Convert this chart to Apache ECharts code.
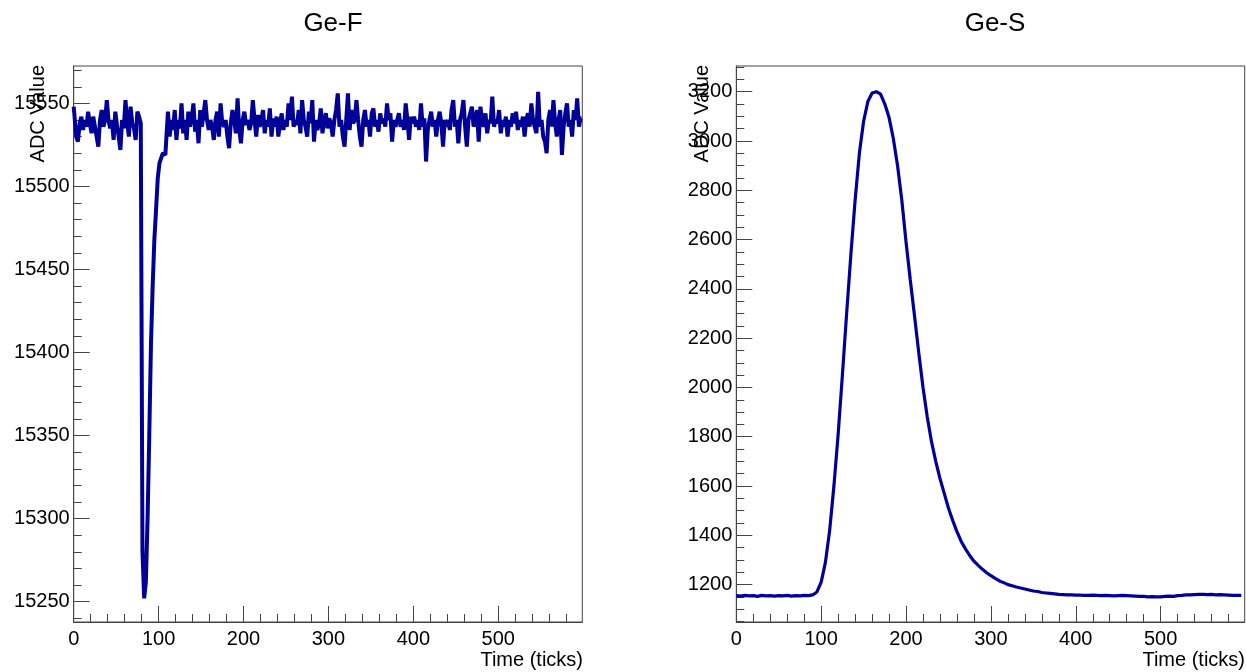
<!DOCTYPE html>
<html>
<head>
<meta charset="utf-8">
<script src="https://cdn.jsdelivr.net/npm/echarts@6/dist/echarts.min.js"></script>
<style>
html,body{margin:0;padding:0;background:#fff;}
#chart{width:1246px;height:672px;}
</style>
</head>
<body>
<div id="chart"></div>
<script>
// ---------------- data ----------------
const titles = ['Ge-F', 'Ge-S'];
const xTitle = 'Time (ticks)';
const yTitle = 'ADC Value';

// Ge-F : one value every 2 ticks, starting at tick 0 (each row = 20 ticks)
const stepF = 2;
const adcF = [
15548,15542,15530,15527,15538,15542,15534,15540,15536,15545,
15538,15532,15542,15536,15530,15524,15540,15546,15536,15540,
15552,15540,15535,15540,15528,15545,15537,15530,15522,15540,
15535,15552,15538,15530,15548,15538,15535,15528,15545,15542,
15538,15280,15252,15262,15300,15350,15405,15440,15468,15486,
15505,15514,15517,15520,15519,15528,15545,15530,15540,15534,
15546,15528,15540,15535,15550,15532,15540,15528,15545,15536,
15541,15550,15533,15540,15526,15546,15536,15544,15552,15540,
15534,15540,15536,15528,15540,15545,15530,15550,15538,15536,
15540,15530,15523,15538,15546,15540,15532,15553,15534,15526,
15540,15545,15537,15540,15534,15538,15552,15540,15530,15543,
15536,15540,15546,15532,15540,15536,15547,15530,15541,15536,
15542,15530,15538,15544,15534,15540,15536,15550,15540,15554,
15536,15540,15537,15546,15532,15552,15540,15536,15530,15545,
15538,15552,15527,15540,15534,15538,15547,15532,15540,15544,
15535,15541,15538,15530,15540,15546,15556,15536,15540,15530,
15524,15540,15556,15534,15546,15538,15540,15552,15540,15530,
15524,15540,15546,15536,15540,15530,15544,15547,15536,15540,
15533,15544,15538,15541,15536,15550,15540,15544,15527,15540,
15536,15540,15544,15536,15540,15534,15550,15540,15528,15542,
15538,15542,15536,15540,15534,15550,15536,15541,15515,15534,
15540,15545,15536,15540,15530,15540,15545,15538,15524,15540,
15536,15540,15534,15546,15552,15536,15540,15526,15540,15544,
15552,15536,15524,15540,15544,15548,15536,15540,15546,15527,
15548,15540,15536,15544,15532,15540,15538,15554,15536,15540,
15538,15546,15532,15540,15536,15542,15530,15540,15536,15544,
15538,15545,15534,15540,15536,15542,15530,15540,15544,15536,
15550,15540,15536,15532,15557,15536,15540,15530,15527,15520,
15540,15546,15536,15552,15538,15530,15540,15546,15519,15536,
15544,15550,15536,15540,15530,15546,15540,15553,15536,15541
];

// Ge-S : one value every 5 ticks, starting at tick 0
const stepS = 5;
const adcS = [
1155,1153,1156,1154,1155,1152,1156,1154,1155,1153,
1155,1154,1156,1153,1155,1154,1156,1155,1158,1170,
1210,1290,1420,1600,1810,2050,2300,2540,2760,2950,
3080,3160,3195,3200,3190,3150,3095,3010,2900,2760,
2590,2436,2290,2140,2000,1880,1780,1700,1630,1570,
1510,1460,1415,1375,1345,1318,1295,1278,1262,1248,
1236,1225,1215,1208,1200,1195,1190,1186,1182,1178,
1174,1172,1168,1166,1164,1162,1160,1159,1158,1158,
1157,1157,1156,1156,1157,1156,1155,1156,1155,1154,
1155,1156,1155,1154,1153,1152,1152,1150,1151,1150,
1150,1152,1153,1152,1155,1156,1158,1158,1159,1160,
1160,1159,1160,1158,1159,1158,1157,1156,1156,1156
];

// axis ranges and tick labels
const xRange = [0, 599];
const xMajor = [0, 100, 200, 300, 400, 500];
const yRangeF = [15237.8, 15572.5];
const yMajorF = [15250, 15300, 15350, 15400, 15450, 15500, 15550];
const yRangeS = [1048.2, 3304.3];
const yMajorS = [1200, 1400, 1600, 1800, 2000, 2200, 2400, 2600, 2800, 3000, 3200];

// ---------------- helpers ----------------
function minorList(lo, hi, step, majors) {
  const out = [];
  const start = Math.ceil(lo / step) * step;
  for (let v = start; v <= hi + 1e-9; v += step) {
    if (majors.indexOf(v) < 0) out.push(v);
  }
  return out;
}
const FONT = 'Liberation Sans, Arial, Helvetica, sans-serif';
const AX = '#444';
const LINE = '#000099';
const LBL = 20;

const grids = [
  {left: 73.7, top: 66, width: 508.6, height: 556},
  {left: 736.3, top: 66, width: 508.4, height: 556}
];

function xAxes(gi) {
  return [
    {gridIndex: gi, type: 'value', position: 'bottom', min: xRange[0], max: xRange[1],
     axisLine: {show: true, onZero: false, lineStyle: {color: AX, width: 1}},
     axisTick: {show: true, inside: true, length: 16, customValues: xMajor, lineStyle: {color: AX}},
     axisLabel: {show: true, customValues: xMajor, fontSize: LBL, fontFamily: FONT, color: '#000', margin: 7,
                 formatter: v => String(v)},
     splitLine: {show: false}},
    {gridIndex: gi, type: 'value', position: 'bottom', min: xRange[0], max: xRange[1],
     axisLine: {show: false},
     axisTick: {show: true, inside: true, length: 8, customValues: minorList(xRange[0], xRange[1], 20, xMajor), lineStyle: {color: AX}},
     axisLabel: {show: false},
     splitLine: {show: false}}
  ];
}
function yAxes(gi, range, majors, minorStep) {
  return [
    {gridIndex: gi, type: 'value', position: 'left', min: range[0], max: range[1],
     axisLine: {show: true, onZero: false, lineStyle: {color: AX, width: 1}},
     axisTick: {show: true, inside: true, length: 16, customValues: majors, lineStyle: {color: AX}},
     axisLabel: {show: true, customValues: majors, fontSize: LBL, fontFamily: FONT, color: '#000', margin: 4,
                 formatter: v => String(v)},
     splitLine: {show: false}},
    {gridIndex: gi, type: 'value', position: 'left', min: range[0], max: range[1],
     axisLine: {show: false},
     axisTick: {show: true, inside: true, length: 8, customValues: minorList(range[0], range[1], minorStep, majors), lineStyle: {color: AX}},
     axisLabel: {show: false},
     splitLine: {show: false}}
  ];
}

const dataF = adcF.map((v, i) => [i * stepF, v]);
const dataS = adcS.map((v, i) => [i * stepS, v]);

const chart = echarts.init(document.getElementById('chart'), null, {renderer: 'canvas'});
chart.setOption({
  animation: false,
  backgroundColor: '#fff',
  title: [
    {text: titles[0], left: 328, top: 6, textAlign: 'center',
     textStyle: {fontSize: 26, fontWeight: 'normal', fontFamily: FONT, color: '#000'}},
    {text: titles[1], left: 990, top: 6, textAlign: 'center',
     textStyle: {fontSize: 26, fontWeight: 'normal', fontFamily: FONT, color: '#000'}}
  ],
  grid: grids.map(g => Object.assign({show: true, borderColor: AX, borderWidth: 1, backgroundColor: 'transparent', containLabel: false}, g)),
  xAxis: [].concat(xAxes(0), xAxes(1)),
  yAxis: [].concat(yAxes(0, yRangeF, yMajorF, 10), yAxes(1, yRangeS, yMajorS, 50)),
  series: [
    {type: 'line', xAxisIndex: 0, yAxisIndex: 0, data: dataF, step: 'middle', showSymbol: false,
     lineStyle: {color: LINE, width: 4}, clip: true},
    {type: 'line', xAxisIndex: 2, yAxisIndex: 2, data: dataS, showSymbol: false,
     lineStyle: {color: LINE, width: 3.2}, clip: true}
  ],
  graphic: [
    {type: 'text', x: 38.5, y: 65, rotation: Math.PI / 2,
     style: {text: yTitle, fontSize: 20, fontFamily: FONT, fill: '#000', align: 'right', verticalAlign: 'middle'}},
    {type: 'text', x: 702, y: 65, rotation: Math.PI / 2,
     style: {text: yTitle, fontSize: 20, fontFamily: FONT, fill: '#000', align: 'right', verticalAlign: 'middle'}},
    {type: 'text', x: 583, y: 660, style: {text: xTitle, fontSize: 20, fontFamily: FONT, fill: '#000', align: 'right', verticalAlign: 'middle'}},
    {type: 'text', x: 1245, y: 660, style: {text: xTitle, fontSize: 20, fontFamily: FONT, fill: '#000', align: 'right', verticalAlign: 'middle'}}
  ]
});
</script>
</body>
</html>
